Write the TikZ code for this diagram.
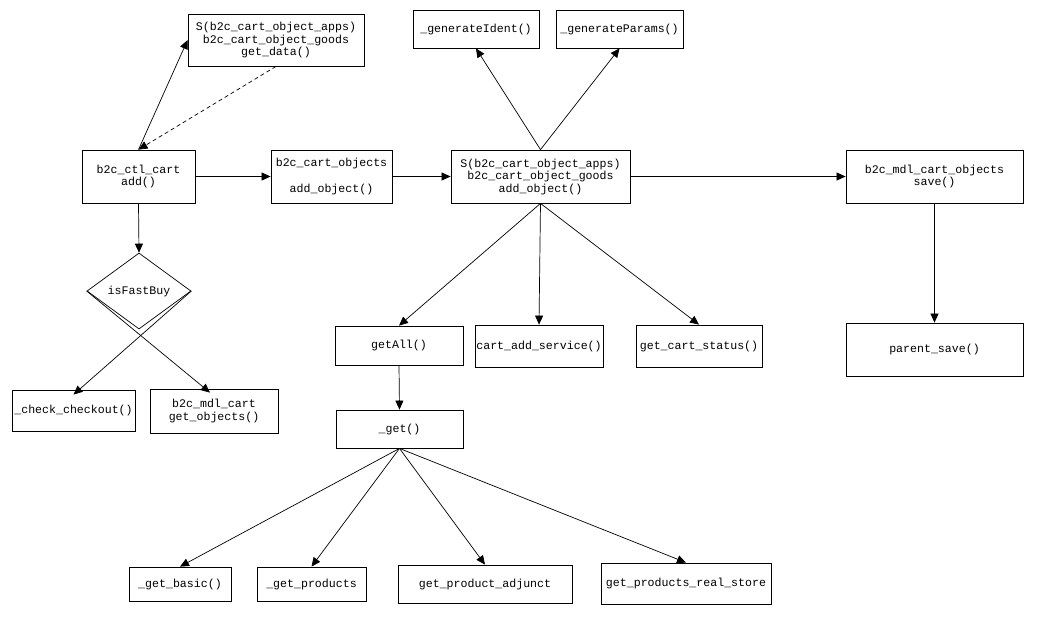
\documentclass[tikz,border=0pt]{standalone}
\usepackage{fontspec}
\usepackage{tikz}
\usetikzlibrary{shapes.geometric,arrows.meta,positioning}
\newfontfamily\codefont{Liberation Mono}

\begin{document}
\begin{tikzpicture}[
    x=1pt,y=-1pt,
    bx/.style   = {rectangle,draw=black,line width=0.8pt,fill=white,align=center,inner sep=1pt,
                   font=\codefont\fontsize{11.6}{12.5}\selectfont},
    dec/.style  = {diamond,draw=black,line width=0.7pt,inner sep=0pt,
                   font=\codefont\fontsize{11.6}{12.5}\selectfont},
    fl/.style   = {-{Triangle[length=9pt,width=8pt]},line width=0.7pt},
    back/.style = {fl,dashed,dash pattern=on 4pt off 3pt},
  ]
  \useasboundingbox (0,0) rectangle (1040,622);

  \node[bx,minimum width=176pt,minimum height=52pt] (data)    at (276,40)      {S(b2c\_cart\_object\_apps)\\b2c\_cart\_object\_goods\\get\_data()};
  \node[bx,minimum width=126pt,minimum height=38pt] (ident)   at (476,29)      {\_generateIdent()};
  \node[bx,minimum width=127pt,minimum height=38pt] (params)  at (619.5,29)    {\_generateParams()};
  \node[bx,minimum width=113pt,minimum height=53pt] (ctl)     at (138.5,176.5) {b2c\_ctl\_cart\\add()};
  \node[bx,minimum width=121pt,minimum height=53pt] (objs)    at (331.5,176.5) {b2c\_cart\_objects\\[13pt]add\_object()};
  \node[bx,minimum width=179pt,minimum height=53pt] (addobj)  at (540.5,176.5) {S(b2c\_cart\_object\_apps)\\b2c\_cart\_object\_goods\\add\_object()};
  \node[bx,minimum width=177pt,minimum height=53pt] (save)    at (934.5,176.5) {b2c\_mdl\_cart\_objects\\save()};
  \node[dec,minimum width=104pt,minimum height=76pt] (fast)   at (139,291)     {isFastBuy};
  \node[bx,minimum width=123pt,minimum height=41pt] (check)   at (73.5,410.5)  {\_check\_checkout()};
  \node[bx,minimum width=128pt,minimum height=44pt] (mdlcart) at (214,411)     {b2c\_mdl\_cart\\get\_objects()};
  \node[bx,minimum width=128pt,minimum height=39pt] (getall)  at (399,345.5)   {getAll()};
  \node[bx,minimum width=128pt,minimum height=42pt] (service) at (539,346)     {cart\_add\_service()};
  \node[bx,minimum width=126pt,minimum height=42pt] (status)  at (699,346)     {get\_cart\_status()};
  \node[bx,minimum width=177pt,minimum height=53pt] (parent)  at (934.5,349.5) {parent\_save()};
  \node[bx,minimum width=127pt,minimum height=38pt] (get)     at (399.5,429)   {\_get()};
  \node[bx,minimum width=102pt,minimum height=34pt] (basic)   at (180,584)     {\_get\_basic()};
  \node[bx,minimum width=109pt,minimum height=34pt] (prods)   at (311.5,584)   {\_get\_products};
  \node[bx,minimum width=174pt,minimum height=38pt] (adjunct) at (485,584)     {get\_product\_adjunct};
  \node[bx,minimum width=170pt,minimum height=41pt] (store)   at (686,583.5)   {get\_products\_real\_store};

  \draw[fl]   (ctl.north) -- (data.west);
  \draw[back] (data.south) -- (ctl.north);
  \foreach \a/\b in {ctl/objs,objs/addobj,addobj/save} \draw[fl] (\a.east) -- (\b.west);
  \foreach \b in {ident,params} \draw[fl] (addobj.north) -- (\b.south);
  \foreach \b in {getall,service,status} \draw[fl] (addobj.south) -- (\b.north);
  \foreach \a/\b in {save/parent,ctl/fast,getall/get} \draw[fl] (\a.south) -- (\b.north);
  \draw[fl] (fast.east) -- ([yshift=-5pt]check.north);
  \draw[fl] (fast.west) -- ([xshift=-4pt,yshift=-4pt]mdlcart.north);
  \foreach \b in {basic,prods,adjunct,store} \draw[fl] (get.south) -- (\b.north);

\end{tikzpicture}
\end{document}
